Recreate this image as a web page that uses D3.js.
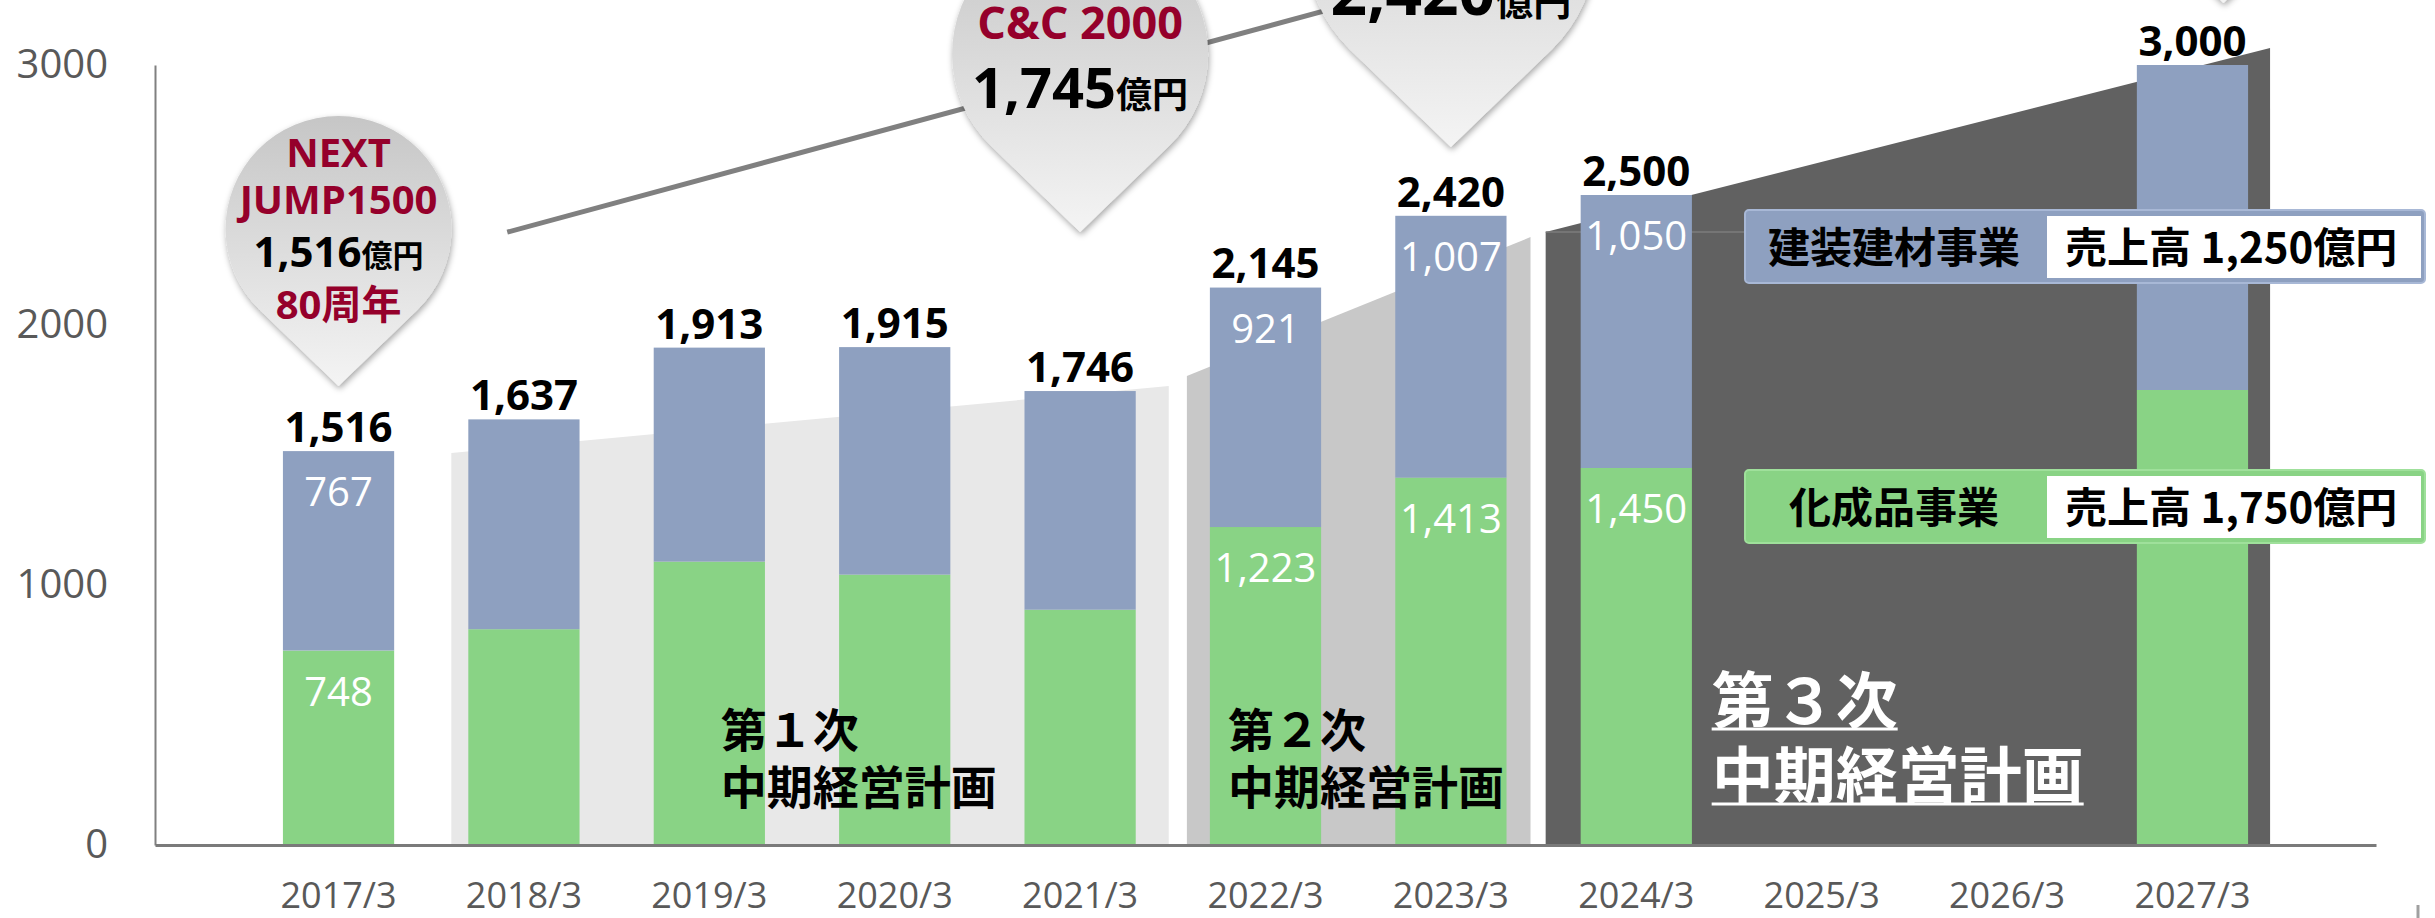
<!DOCTYPE html>
<html>
<head>
<meta charset="utf-8">
<script src="https://cdn.jsdelivr.net/npm/d3@7"></script>
<style>
  body { margin: 0; background: #fff; }
  svg { display: block; }
</style>
</head>
<body>
<div id="chart"></div>
<script>
// ---- data ----
const categories = ["2017/3", "2018/3", "2019/3", "2020/3", "2021/3", "2022/3", "2023/3", "2024/3", "2025/3", "2026/3", "2027/3"];
const kaseihin = [748, 830, 1090, 1040, 905, 1223, 1413, 1450, null, null, 1750];   // 化成品事業
const kenso    = [767, 807, 823, 875, 841, 921, 1007, 1050, null, null, 1250];      // 建装建材事業
const totals   = [1516, 1637, 1913, 1915, 1746, 2145, 2420, 2500, null, null, 3000];
const labelledYears = ["2017/3", "2022/3", "2023/3", "2024/3"];
const yTicks = [0, 1000, 2000, 3000];

const seriesNames = ["化成品事業", "建装建材事業"];
const salesTargets = [1750, 1250];

// mid-term plans
const planNames = ["第１次", "第２次", "第３次"];
const planFirst = ["2018/3", "2022/3", "2024/3"];
const planLast  = ["2021/3", "2023/3", "2027/3"];
const planTopFrom = [1508, 1804, 2358];
const planTopTo   = [1765, 2338, 3065];

// milestone pins
const pinCategories = ["2017/3", "2021/3", "2023/3", "2027/3"];
const pinTips = [1765, 2358, 2685, 3238];
const pinTitles = [["NEXT", "JUMP1500"], ["C&C 2000"], [], []];
const pinAmounts = [1516, 1745, 2420, null];
const pinNotes = ["80周年", null, null, null];

// trend line behind the pins
const trendCategories = ["2017/3", "2023/3"];
const trendValues = [2357, 3340];

// ---- layout ----
const W = 2435, H = 918;
const blue = "#8ea0c0", green = "#89d385", red = "#95002b";
const planFill = ["#e8e8e8", "#c8c8c8", "#616161"];
const planPad = [[17, 33], [23, 24], [35, 22]];
const pinR = [113, 128, 145, 145];
const pinShift = [0, 0, 0, 31];
const jp = "'Noto Sans CJK JP', sans-serif";
const num = "'Open Sans', 'Noto Sans CJK JP', sans-serif";

const svg = d3.select("#chart").append("svg").attr("width", W).attr("height", H);

const x = d3.scaleBand().domain(categories).range([155, 2376]).paddingInner(0.4).paddingOuter(0.69);
const y = d3.scaleLinear().domain([0, 3000]).range([845, 65]);
const bw = x.bandwidth(), step = x.step();
const cx = c => x(c) + bw / 2;

const defs = svg.append("defs");
const grad = defs.append("linearGradient").attr("id", "pinGrad").attr("x1", 0).attr("y1", 0).attr("x2", 0).attr("y2", 1);
grad.append("stop").attr("offset", "0%").attr("stop-color", "#c6c6c6");
grad.append("stop").attr("offset", "100%").attr("stop-color", "#f4f4f4");
defs.append("filter").attr("id", "shadow").attr("x", "-20%").attr("y", "-20%").attr("width", "140%").attr("height", "140%")
  .append("feDropShadow").attr("dx", 1).attr("dy", 3).attr("stdDeviation", 3)
  .attr("flood-color", "#000").attr("flood-opacity", 0.35);

// plan backgrounds
planNames.forEach((p, i) => {
  const left = x(planFirst[i]) - planPad[i][0];
  const right = x(planLast[i]) + bw + planPad[i][1];
  svg.append("path")
    .attr("d", d3.line()([[left, y(0)], [left, y(planTopFrom[i])], [right, y(planTopTo[i])], [right, y(0)]]) + "Z")
    .attr("fill", planFill[i]);
});

// leader line to the legend
svg.append("line")
  .attr("x1", x(planFirst[2]) - planPad[2][0]).attr("x2", 1745)
  .attr("y1", y(planTopFrom[2])).attr("y2", y(planTopFrom[2]))
  .attr("stroke", "#7d7d7d").attr("stroke-width", 1.5);

// stacked bars
const rows = categories.map((c, i) => ({ cat: c, kaseihin: kaseihin[i], kenso: kenso[i], total: totals[i] }));
const stacked = d3.stack().keys(["kaseihin", "kenso"]).value((d, k) => d[k] || 0)(rows);
const colors = { kaseihin: green, kenso: blue };

stacked.forEach(s => {
  svg.append("g").selectAll("rect")
    .data(s.filter(d => d.data[s.key] != null))
    .join("rect")
    .attr("x", d => x(d.data.cat))
    .attr("y", d => y(d[1]))
    .attr("width", bw)
    .attr("height", d => y(d[0]) - y(d[1]))
    .attr("fill", colors[s.key]);
});

// axes
const yAxis = svg.append("g").attr("transform", "translate(155,0)")
  .call(d3.axisLeft(y).tickValues(yTicks).tickSize(0).tickSizeOuter(0).tickPadding(47).tickFormat(d3.format("d")));
yAxis.select(".domain").attr("stroke", "#808080").attr("stroke-width", 2);
yAxis.selectAll("text").attr("font-family", num).attr("font-size", 40).attr("fill", "#595959");

const xAxis = svg.append("g").attr("transform", "translate(0,845)")
  .call(d3.axisBottom(x).tickSize(0).tickSizeOuter(0).tickPadding(37));
xAxis.select(".domain").attr("stroke", "#7a7a7a").attr("stroke-width", 3);
xAxis.selectAll("text").attr("font-family", num).attr("font-size", 36).attr("fill", "#595959");

// segment labels (inside end)
stacked.forEach(s => {
  svg.append("g").selectAll("text")
    .data(s.filter(d => labelledYears.includes(d.data.cat)))
    .join("text")
    .attr("x", d => cx(d.data.cat))
    .attr("y", d => y(d[1]) + 55)
    .attr("text-anchor", "middle")
    .attr("font-family", num).attr("font-size", 40).attr("fill", "#fff")
    .text(d => d3.format(",")(d.data[s.key]));
});

// totals
svg.append("g").selectAll("text")
  .data(rows.filter(d => d.total != null))
  .join("text")
  .attr("x", d => cx(d.cat))
  .attr("y", d => y(d.total) - 9)
  .attr("text-anchor", "middle")
  .attr("font-family", num).attr("font-weight", 700).attr("font-size", 42).attr("fill", "#000")
  .text(d => d3.format(",")(d.total));

// plan titles
const planTextX = [x("2019/3") + 67, x("2022/3") + 18, x("2024/3") + 131];
const planTextY = [[727, 784], [727, 784], [697, 772]];
planNames.forEach((p, i) => {
  const big = i === 2;
  const fs = big ? 62 : 46;
  const col = big ? "#fff" : "#000";
  [p, "中期経営計画"].forEach((t, j) => {
    const txt = svg.append("text")
      .attr("x", planTextX[i]).attr("y", planTextY[i][j])
      .attr("dominant-baseline", "central")
      .attr("font-family", jp).attr("font-weight", 700).attr("font-size", fs).attr("fill", col)
      .text(t);
    if (big) {
      const len = txt.node().getComputedTextLength();
      svg.append("line")
        .attr("x1", planTextX[i]).attr("x2", planTextX[i] + len)
        .attr("y1", planTextY[i][j] + 32).attr("y2", planTextY[i][j] + 32)
        .attr("stroke", "#fff").attr("stroke-width", 3);
    }
  });
});

// trend line
svg.append("line")
  .attr("x1", cx(trendCategories[0]) + 0.91 * step).attr("y1", y(trendValues[0]))
  .attr("x2", cx(trendCategories[1])).attr("y2", y(trendValues[1]))
  .attr("stroke", "#808080").attr("stroke-width", 5);

// pins
function pinPath(tx, ty, r) {
  const d = 1.39 * r, cy = ty - d, c = r / d, s = Math.sqrt(1 - c * c);
  const ry = cy + r * c;
  return `M${tx},${ty}L${tx + r * s},${ry}A${r},${r} 0 1 0 ${tx - r * s},${ry}Z`;
}
const pinLines = [
  { title: [-219, -172], amount: -119, note: -67, tSize: 40, aSize: 42, uSize: 31 },
  { title: [-193], amount: -124, tSize: 45, aSize: 56, uSize: 36 },
  { title: [], amount: -132, tSize: 45, aSize: 64, uSize: 38 },
  { title: [] }
];
pinCategories.forEach((c, i) => {
  const tx = cx(c) + pinShift[i], ty = y(pinTips[i]);
  const g = svg.append("g");
  g.append("path").attr("d", pinPath(tx, ty, pinR[i])).attr("fill", "url(#pinGrad)").attr("filter", "url(#shadow)");
  const L = pinLines[i];
  pinTitles[i].forEach((t, j) => {
    g.append("text").attr("x", tx).attr("y", ty + L.title[j]).attr("text-anchor", "middle")
      .attr("font-family", num).attr("font-weight", 700).attr("font-size", L.tSize).attr("fill", red).text(t);
  });
  if (pinAmounts[i] != null) {
    const t = g.append("text").attr("x", tx).attr("y", ty + L.amount).attr("text-anchor", "middle")
      .attr("font-family", num).attr("font-weight", 700).attr("fill", "#000");
    t.append("tspan").attr("font-size", L.aSize).text(d3.format(",")(pinAmounts[i]));
    t.append("tspan").attr("font-size", L.uSize).attr("font-family", jp).text("億円");
  }
  if (pinNotes[i]) {
    g.append("text").attr("x", tx).attr("y", ty + L.note).attr("text-anchor", "middle")
      .attr("font-family", num).attr("font-weight", 700).attr("font-size", L.tSize).attr("fill", red).text(pinNotes[i]);
  }
});

// legend boxes
const legendY = [470, 210];
const legendFill = [green, blue];
const legendStroke = ["#9fe09b", "#a8b8d6"];
seriesNames.forEach((name, i) => {
  const g = svg.append("g").attr("transform", `translate(1745,${legendY[i]})`);
  g.append("rect").attr("width", 680).attr("height", 73).attr("rx", 4)
    .attr("fill", legendFill[i]).attr("stroke", legendStroke[i]).attr("stroke-width", 2);
  g.append("rect").attr("x", 302).attr("y", 6).attr("width", 374).attr("height", 62).attr("fill", "#fff");
  g.append("text").attr("x", 149).attr("y", 34).attr("text-anchor", "middle").attr("dominant-baseline", "central")
    .attr("font-family", jp).attr("font-weight", 700).attr("font-size", 42).attr("fill", "#000").text(name);
  g.append("text").attr("x", 320).attr("y", 34).attr("dominant-baseline", "central")
    .attr("font-family", jp).attr("font-weight", 700).attr("font-size", 42).attr("fill", "#000")
    .text("売上高 " + d3.format(",")(salesTargets[i]) + "億円");
});

// stray mark at bottom right
svg.append("line").attr("x1", 2418).attr("x2", 2418).attr("y1", 905).attr("y2", 918)
  .attr("stroke", "#a0a0a0").attr("stroke-width", 3);
</script>
</body>
</html>
